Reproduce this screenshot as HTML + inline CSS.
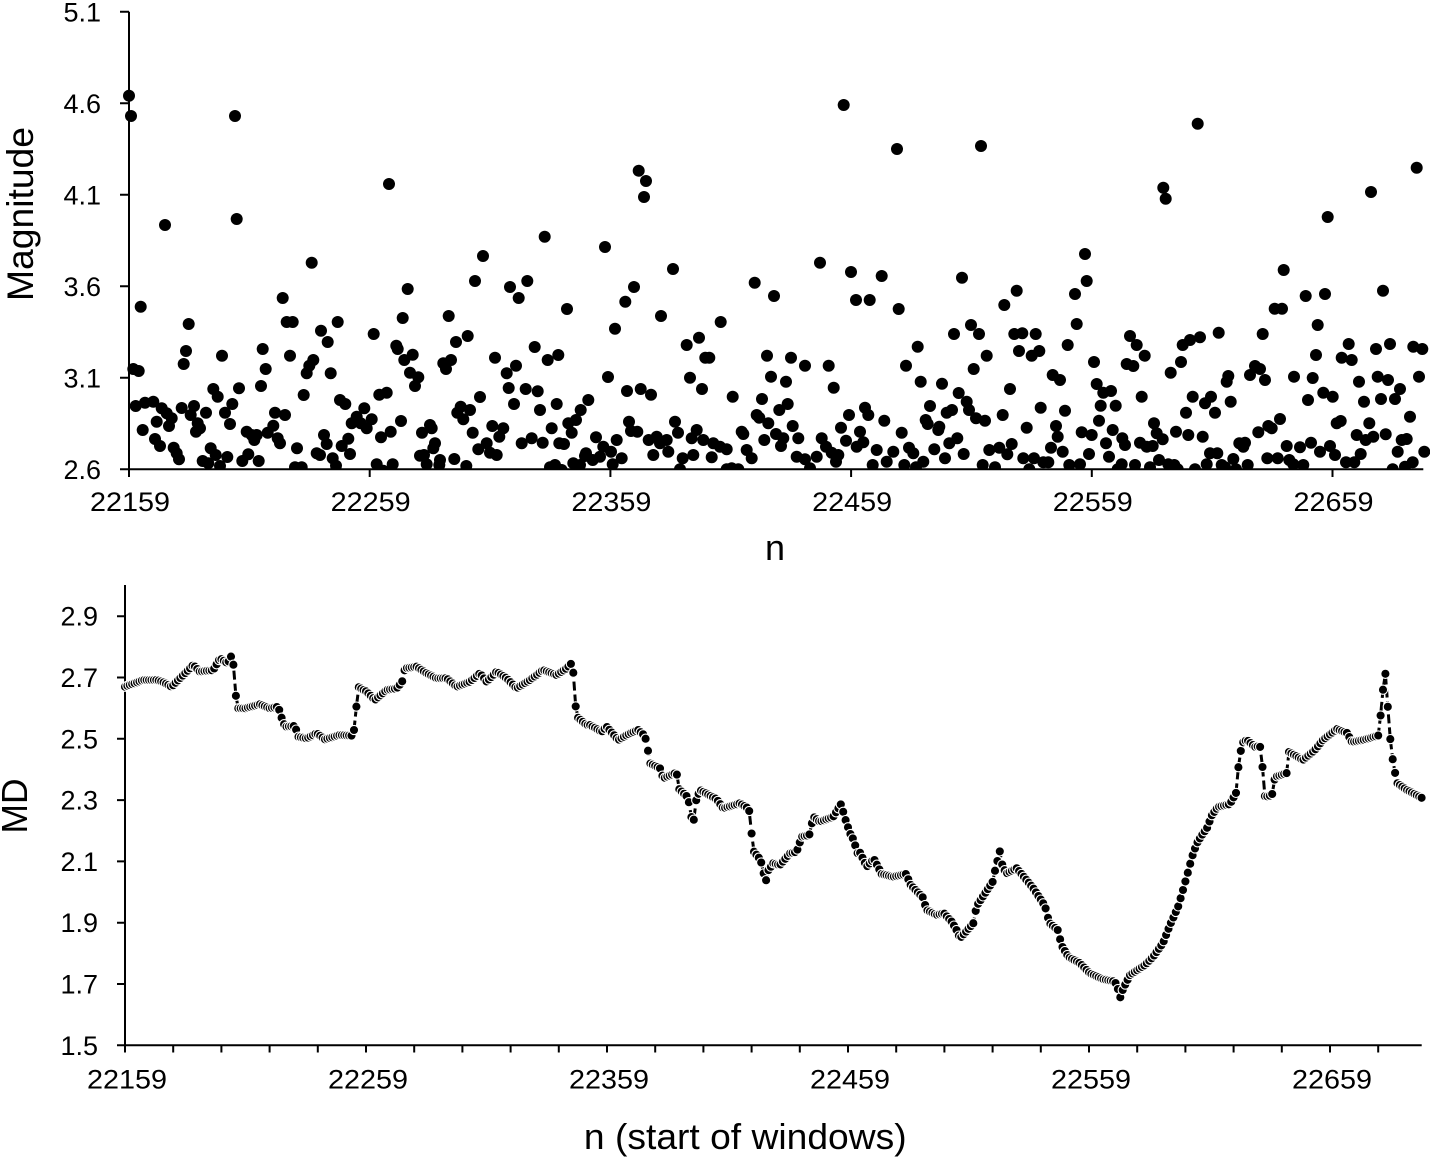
<!DOCTYPE html>
<html><head><meta charset="utf-8">
<style>
html,body{margin:0;padding:0;background:#fff;}
svg{display:block;}
text{font-family:"Liberation Sans",Arial,sans-serif;fill:#000;}
</style></head>
<body>
<svg id="s" width="1430" height="1160" viewBox="0 0 1430 1160" xmlns="http://www.w3.org/2000/svg">
<defs><clipPath id="c1"><rect x="0" y="0" width="1430" height="469.3"/></clipPath></defs>
<rect x="0" y="0" width="1430" height="1160" fill="#fff"/>
<g id="tg" clip-path="url(#c1)" fill="#000"></g>
<g stroke="#000" stroke-width="2" fill="none">
<path d="M129 11.8V469.3M120 469.3H1423.3M120 11.8H129M120 103.3H129M120 194.8H129M120 286.3H129M120 377.8H129M129 469.3V477M369.7 469.3V477M610.4 469.3V477M851.1 469.3V477M1091.8 469.3V477M1332.5 469.3V477"/>
<path d="M125 585V1045.3M117 1045.3H1421.7M117 616.2H125M117 677.5H125M117 738.8H125M117 800.1H125M117 861.4H125M117 922.7H125M117 984H125"/>
<path id="bt" d=""/>
</g>
<g id="bg"></g>
<g font-size="27" text-anchor="end">
<text x="101" y="21.3">5.1</text>
<text x="101" y="112.8">4.6</text>
<text x="101" y="204.3">4.1</text>
<text x="101" y="295.8">3.6</text>
<text x="101" y="387.3">3.1</text>
<text x="101" y="478.8">2.6</text>
<text x="98" y="625.7">2.9</text>
<text x="98" y="687">2.7</text>
<text x="98" y="748.3">2.5</text>
<text x="98" y="809.6">2.3</text>
<text x="98" y="870.9">2.1</text>
<text x="98" y="932.2">1.9</text>
<text x="98" y="993.5">1.7</text>
<text x="98" y="1054.8">1.5</text>
</g>
<g font-size="27" text-anchor="middle">
<text x="130" y="511" textLength="80" lengthAdjust="spacingAndGlyphs">22159</text>
<text x="370.7" y="511" textLength="80" lengthAdjust="spacingAndGlyphs">22259</text>
<text x="611.4" y="511" textLength="80" lengthAdjust="spacingAndGlyphs">22359</text>
<text x="852.1" y="511" textLength="80" lengthAdjust="spacingAndGlyphs">22459</text>
<text x="1092.8" y="511" textLength="80" lengthAdjust="spacingAndGlyphs">22559</text>
<text x="1333.5" y="511" textLength="80" lengthAdjust="spacingAndGlyphs">22659</text>
<text x="127" y="1088.3" textLength="80" lengthAdjust="spacingAndGlyphs">22159</text>
<text x="368" y="1088.3" textLength="80" lengthAdjust="spacingAndGlyphs">22259</text>
<text x="609" y="1088.3" textLength="80" lengthAdjust="spacingAndGlyphs">22359</text>
<text x="850" y="1088.3" textLength="80" lengthAdjust="spacingAndGlyphs">22459</text>
<text x="1091" y="1088.3" textLength="80" lengthAdjust="spacingAndGlyphs">22559</text>
<text x="1332" y="1088.3" textLength="80" lengthAdjust="spacingAndGlyphs">22659</text>
</g>
<g font-size="36" text-anchor="middle">
<text x="775" y="560">n</text>
<text x="745.3" y="1149" textLength="322.7" lengthAdjust="spacingAndGlyphs">n (start of windows)</text>
<text transform="translate(33,214) rotate(-90)" font-size="37" textLength="174" lengthAdjust="spacingAndGlyphs">Magnitude</text>
<text transform="translate(27,806) rotate(-90)" textLength="55" lengthAdjust="spacingAndGlyphs">MD</text>
</g>
</svg>
<script>
(function(){
var NS="http://www.w3.org/2000/svg";
var tg=document.getElementById('tg');
var Z=[[120,60,[27,107,33,168,345,168,807,372,135,495,350,477,1274,530,1089,588,575,608,1065,663,1170,681,1222,663,1196,714,863,687,488,714,62,740,206,792,500,786,518,786,848,774,986,768,653,786,603,812,761,822,623,846,1043,828,1008,846,198,873,428,867,829,857,833,867,1244,861,306,887,510,887,878,884,1125,893,1283,900,1315,885,580,900,568,917,560,940,853,900,993,900,970,910,978,927,191,912,40,927,56,933,437,927,632,940,870,938,895,952,885,978,1160,940,1188,917,
280,987,293,1010,357,985,423,978,551,1005,778,1004,800,998,1166,984,1217,987,1253,994,1080,1011,47,1038,75,1028,100,1025,125,1045,140,1060,155,1075,185,1044,222,1038,212,1065,258,1058,315,1058,337,1032,330,1092,233,1090,240,1105,228,1115,110,1085,147,1098,68,1110,105,1137,120,1158,161,1163,170,1180,177,1198,248,1203,265,1210,272,1165,287,1185,300,1218,322,1191,367,1203,385,1183,416,1203,380,1115,395,1125,403,1140,410,1125,443,1118,460,1097,465,1058,495,1065,473,1135,480,1150,531,1165,525,1222,545,1222,590,1180,600,1185,612,1125,620,1152,638,1195,648,1217,660,1020,676,1032,665,1158,685,1136,690,1182,695,1090,710,1070,722,1090,733,1045,740,1105,755,1078,783,1132,812,1115,843,1083,770,1213,790,1232,818,1213,906,1118,930,1095,935,1105,900,1187,912,1185,945,1150,940,1165,920,1213,960,1200,958,1215,1003,1197,1039,1218,1012,1058,1022,1040,1030,1078,1050,1050,1058,1118,1075,1168,1100,1150,1110,1178,1130,1185,1117,1098,1138,1130,1150,1105,1182,1032,1205,1150,1235,1135,1268,1148,1260,1050,1295,1105,1310,1032,1318,1150,1290,1222,1305,1215]],
[550,60,[881,135,1041,267,1293,258,266,332,288,363,282,411,165,561,810,608,903,636,995,648,369,627,614,668,1236,653,252,681,672,708,226,725,918,720,959,720,51,747,1046,747,333,768,195,806,512,786,1212,822,1263,795,1287,822,410,855,447,833,466,893,478,893,651,887,723,893,765,917,836,917,1103,860,1068,917,1310,887,1271,927,174,951,420,953,663,950,708,965,1112,965,1176,971,456,987,851,983,231,993,272,987,303,1004,548,1010,636,1017,1226,999,
115,1020,92,1050,78,1080,55,1090,65,1118,42,1152,138,1132,160,1160,183,1175,200,1140,215,1195,188,1213,237,1085,243,1113,262,1115,296,1140,320,1130,330,1150,350,1140,355,1175,310,1185,375,1085,384,1118,398,1195,390,1228,430,1185,425,1135,440,1110,460,1140,490,1150,510,1160,530,1168,485,1192,530,1228,545,1225,565,1228,575,1115,580,1122,590,1170,605,1195,620,1065,628,1073,655,1090,643,1140,688,1050,713,1032,678,1122,700,1135,693,1158,728,1098,745,1135,740,1190,765,1198,780,1225,800,1190,815,1135,828,1160,845,1178,865,1185,858,1205,873,1103,897,1065,888,1142,930,1115,920,1160,945,1043,955,1065,940,1147,980,1170,968,1215,1003,1082,1030,1175,1010,1205,1055,1118,1063,1215,1077,1163,1090,1180,1098,1222,1120,1205,1127,1080,1133,1092,1140,1038,1153,1168,1165,1110,1168,1100,1190,1058,1206,1050,1198,1150,1222,1135,1185,1195,1241,1182,1250,1025,1257,1050,1278,1075,1305,1082,1298,1215,1318,1170,35,1230,70,1210,90,1215,105,1188,128,1200,150,1190,108,1180]],
[980,60,[653,191,1310,323,550,383,557,416,1173,396,1043,471,315,582,911,630,320,663,285,702,1209,692,110,692,977,708,1035,702,73,735,884,746,906,746,290,792,1013,795,103,822,127,820,167,822,848,822,716,818,660,832,630,840,608,855,450,828,470,855,494,887,263,855,117,873,155,887,178,873,1008,885,1106,852,1188,867,1230,852,1300,860,1327,867,1085,893,1115,900,342,906,603,906,440,912,460,918,572,938,810,945,825,918,840,927,855,960,218,945,240,960,745,948,740,965,942,950,998,954,1137,965,1193,950,1224,960,1317,950,
90,987,350,972,370,998,393,993,362,1037,407,1037,485,1010,638,1010,675,1030,693,1010,618,1058,705,1058,752,1025,984,1020,1030,998,1058,1010,1152,1025,1203,1017,1245,1017,1260,987,1290,1070,68,1065,182,1043,255,1052,140,1103,228,1098,233,1130,213,1163,248,1175,95,1152,58,1163,82,1183,130,1195,162,1195,190,1207,205,1207,45,1222,148,1228,268,1215,300,1213,305,1117,335,1125,357,1082,398,1110,378,1150,387,1190,327,1182,427,1135,435,1155,413,1228,425,1213,465,1215,480,1148,500,1160,518,1158,522,1090,530,1120,548,1138,510,1222,537,1200,565,1213,583,1215,593,1228,588,1115,625,1125,668,1130,645,1228,680,1213,690,1180,712,1180,725,1215,735,1222,760,1197,768,1228,778,1150,795,1148,790,1160,803,1215,835,1117,865,1098,875,1105,900,1077,862,1195,893,1195,920,1158,928,1200,940,1213,960,1162,970,1215,993,1148,1020,1175,1050,1158,1065,1185,1070,1090,1082,1083,1098,1207,1123,1207,1130,1125,1142,1182,1157,1140,1168,1090,1180,1130,1217,1123,1253,1175,1265,1140,1280,1137,1238,1228,1275,1220,1298,1207,1333,1175]]];
Z.forEach(function(z){var a=z[2];for(var i=0;i<a.length;i+=2){var c=document.createElementNS(NS,'circle');c.setAttribute('cx',(z[0]+a[i]/3).toFixed(1));c.setAttribute('cy',(z[1]+a[i+1]/3).toFixed(1));c.setAttribute('r','6');tg.appendChild(c);}});

var K=[[125,686.7],[143.3,680],[156.7,680],[162.3,681.7],[171.7,686.7],[181.7,676.7],[193.3,665],[200,671.7],[213.3,670],[220,658.3],[227.7,663.3],[232.7,653.3],[235,688.3],[237.3,708.3],[245,708.3],[260,704.3],[270,708.3],[278.3,706.7],[281,716],[285,726.7],[295,726],[298.3,736.7],[306.7,738.3],[316.7,733.3],[325,739.3],[340,735],[353.3,735.7],[356,712],[357.7,686.7],[366.7,691.7],[375,700],[386.7,690],[396.7,688.3],[402,682],[405,668.3],[416.7,666.7],[426.7,673.3],[436.7,678.3],[446.7,678.3],[456.7,686.7],[470,681.7],[480,673.3],[486.7,681.7],[496.7,671.7],[506.7,678.3],[516.7,688.3],[530,680],[543.3,670],[556.7,675],[566.7,668.3],[572.7,662],[574.3,692.7],[576.7,716.7],[586.7,725],[590,725],[601.7,731.7],[606.7,726.7],[618.3,740],[630,733.3],[638.3,730],[645,736],[647.7,749],[650,763.3],[660,768.3],[663.3,778.3],[676.7,772.7],[678.3,788.3],[688.3,797.7],[691,816.7],[694,820],[696,800.7],[700,790],[716.7,799.3],[723.3,808.3],[740,803.3],[749,809],[750.7,826.7],[754,851.7],[760.7,860],[765.7,882.7],[767.3,871.7],[773.3,863.3],[780,865],[790,853.3],[796.7,851.7],[801.7,836.7],[809.3,835],[813.3,816.7],[820,821.7],[833.3,816.7],[837.3,810],[841,804],[845,818.3],[850,833.3],[853.3,839.3],[857.7,853.3],[860,852.7],[866.7,866.7],[874,859],[881.7,874],[893.3,876.7],[906,874],[910.7,885],[922.7,897.3],[926.7,910],[936.7,915],[944,913.3],[951.7,921.7],[955.7,928.3],[960,938.3],[966,931.7],[973.3,923.3],[976.7,906],[985,893.3],[992.7,881.7],[995,870.7],[1000,850.7],[1002.7,867.3],[1006.7,873.3],[1016.7,868.3],[1023.3,876],[1033.3,888.3],[1045,906],[1049.3,922.7],[1057.7,930],[1061.7,945.7],[1068.3,956.7],[1080,963.3],[1090,973.3],[1103.3,979.3],[1115,981.7],[1118.3,990],[1120,998.3],[1123.3,988.3],[1130,975],[1145,965],[1153,957],[1163,943],[1170,925],[1178,907],[1183,890],[1188,872],[1192,857],[1197,843],[1202,835],[1207,828],[1212,815],[1218,807],[1230,804],[1236,793],[1238,770],[1242,743],[1247,740],[1255,747],[1260,746],[1263,771],[1265,797],[1272,795],[1275,777],[1287,773],[1289,752],[1303,760],[1315,750],[1323,740],[1337,729],[1347,733],[1352,742],[1363,740],[1380,735],[1381,703],[1386,670],[1388,710],[1390,737],[1393,762],[1397,783],[1407,790],[1422,798]];
function yAt(x){for(var i=1;i<K.length;i++){if(x<=K[i][0]){var a=K[i-1],b=K[i];var t=(x-a[0])/(b[0]-a[0]);return a[1]+t*(b[1]-a[1]);}}return K[K.length-1][1];}
var pts=[];
for(var k=0;k<=538;k++){var x=125+k*2.41;pts.push([x,yAt(x)]);}
var bg=document.getElementById('bg');
var pl=document.createElementNS(NS,'polyline');
pl.setAttribute('points',pts.map(function(p){return p[0].toFixed(1)+','+p[1].toFixed(1);}).join(' '));
pl.setAttribute('fill','none');pl.setAttribute('stroke','#000');pl.setAttribute('stroke-width','3');pl.setAttribute('stroke-dasharray','9 4');
bg.appendChild(pl);
pts.forEach(function(p){var c=document.createElementNS(NS,'circle');c.setAttribute('cx',p[0].toFixed(1));c.setAttribute('cy',p[1].toFixed(1));c.setAttribute('r','4.6');c.setAttribute('fill','#000');c.setAttribute('stroke','#fff');c.setAttribute('stroke-width','1.1');bg.appendChild(c);});
var d='';for(var j=0;j<=26;j++){var tx=(125+j*48.2).toFixed(1);d+='M'+tx+' 1045.3V1052.5';}
document.getElementById('bt').setAttribute('d',d);
})();
</script>
</body></html>
